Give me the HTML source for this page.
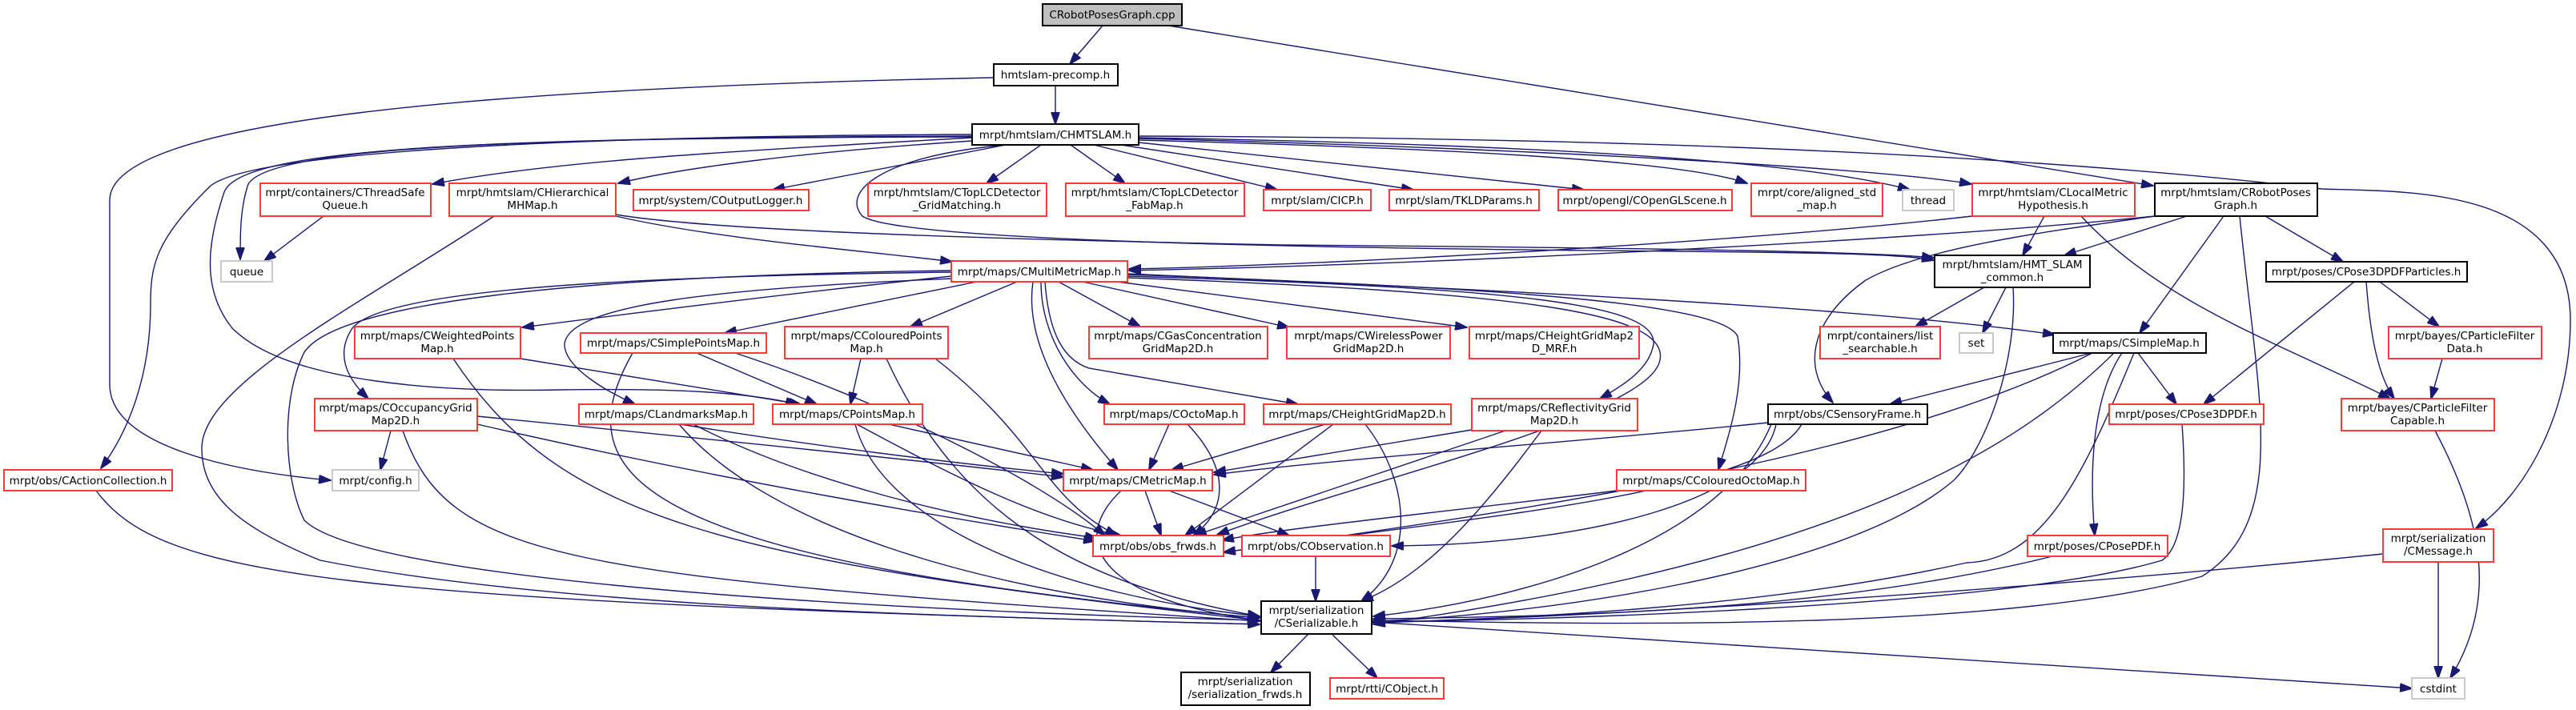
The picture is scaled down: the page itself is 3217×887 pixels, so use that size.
<!DOCTYPE html>
<html><head><meta charset="utf-8"><style>
html,body{margin:0;padding:0;background:#fff;}
svg{display:block;}
text{font-family:"DejaVu Sans","Liberation Sans",sans-serif;font-size:13.5px;fill:#000;text-anchor:middle;}
.e{fill:none;stroke:#191970;stroke-width:1.4;marker-end:url(#a);}
.r{fill:#fff;stroke:#ff3838;stroke-width:2;}
.b{fill:#fff;stroke:#000;stroke-width:2;}
.g{fill:#fff;stroke:#c8c8c8;stroke-width:2;}
</style></head><body>
<svg width="3217" height="887" viewBox="0 0 3217 887" xmlns="http://www.w3.org/2000/svg">
<defs><marker id="a" markerUnits="userSpaceOnUse" markerWidth="16" markerHeight="11" refX="15" refY="5.5" orient="auto" viewBox="0 0 16 11"><path d="M0,0 L16,5.5 L0,11 z" fill="#191970" stroke="#191970"/></marker></defs>
<g>
<path class="e" d="M1377,32 L1336,80"/>
<path class="e" d="M1459,32 L2689,232"/>
<path class="e" d="M1318,107 L1318,155"/>
<path class="e" d="M1241,97 C600,110 137,150 137,250 L137,480 C137,560 300,590 413,600"/>
<path class="e" d="M1214,172 C900,190 700,200 540,230"/>
<path class="e" d="M1214,176 C1000,190 850,210 772,229"/>
<path class="e" d="M1256,181 L965,237"/>
<path class="e" d="M1214,171 C700,172 340,180 310,230 C300,260 300,290 300,324"/>
<path class="e" d="M1214,168 C700,170 300,190 260,235 C195,300 188,330 188,380 C188,470 160,540 126,585"/>
<path class="e" d="M1214,170 C600,172 300,185 280,240 C260,300 250,360 290,410 C360,480 560,490 700,487 C850,485 930,490 996,505"/>
<path class="e" d="M1300,181 L1232,229"/>
<path class="e" d="M1337,181 L1405,229"/>
<path class="e" d="M1366,181 L1595,237"/>
<path class="e" d="M1400,181 L1765,237"/>
<path class="e" d="M1422,178 L1978,237"/>
<path class="e" d="M1422,175 C1800,185 2100,200 2182,229"/>
<path class="e" d="M1422,172 C1900,180 2250,200 2385,237"/>
<path class="e" d="M1422,173 C1900,185 2350,210 2462,230"/>
<path class="e" d="M1256,181 C1100,195 1050,240 1077,270 C1120,300 1600,310 2100,314 C2300,316 2380,318 2415,325"/>
<path class="e" d="M1422,170 C2000,172 2500,190 2900,236 C3000,240 3210,230 3210,400 C3210,520 3150,620 3092,660"/>
<path class="e" d="M404,270 L330,326"/>
<path class="e" d="M617,270 C450,380 252,480 252,560 C252,620 300,660 400,700 C700,760 1200,770 1573,780"/>
<path class="e" d="M769,270 C900,300 1100,315 1189,327"/>
<path class="e" d="M769,268 C900,290 1300,300 1600,306 C2100,310 2350,315 2415,322"/>
<path class="e" d="M2463,270 C2200,300 1700,330 1410,336"/>
<path class="e" d="M2691,270 C2400,300 1800,330 1410,338"/>
<path class="e" d="M2553,270 L2526,319"/>
<path class="e" d="M2599,270 C2700,380 2850,430 2985,498"/>
<path class="e" d="M2731,270 L2578,319"/>
<path class="e" d="M2777,270 L2672,416"/>
<path class="e" d="M2829,270 L2926,327"/>
<path class="e" d="M2797,270 C2820,500 2860,650 2750,720 C2500,790 2000,780 1715,775"/>
<path class="e" d="M2691,270 C2550,290 2400,310 2330,350 C2260,400 2250,460 2289,503"/>
<path class="e" d="M1188,345 C1000,365 800,390 652,409"/>
<path class="e" d="M1220,352 L905,416"/>
<path class="e" d="M1270,352 L1137,408"/>
<path class="e" d="M1322,352 L1424,408"/>
<path class="e" d="M1352,352 L1610,409"/>
<path class="e" d="M1395,352 L1832,409"/>
<path class="e" d="M1408,342 C1800,360 2300,380 2566,418"/>
<path class="e" d="M1188,340 C800,345 480,360 440,410 C420,440 430,470 460,498"/>
<path class="e" d="M1190,348 C900,360 710,380 705,430 C705,460 760,490 793,505"/>
<path class="e" d="M1290,352 C1280,420 1320,500 1396,587"/>
<path class="e" d="M1300,352 C1300,420 1340,480 1386,505"/>
<path class="e" d="M1305,352 C1310,420 1330,450 1360,460 L1621,505"/>
<path class="e" d="M1408,345 C1900,360 2070,380 2065,430 C2060,460 2030,480 1998,498"/>
<path class="e" d="M1408,343 C1900,360 2150,380 2170,420 C2180,480 2160,540 2146,587"/>
<path class="e" d="M1408,347 C1900,365 2085,390 2073,450 C2060,520 1700,600 1520,668"/>
<path class="e" d="M1188,338 C700,345 420,380 380,440 C350,500 355,600 380,650 C450,720 1000,760 1573,775"/>
<path class="e" d="M2478,359 L2392,408"/>
<path class="e" d="M2505,359 L2476,416"/>
<path class="e" d="M2514,359 C2520,450 2480,560 2440,600 C2300,720 1900,770 1715,776"/>
<path class="e" d="M2940,352 L2752,505"/>
<path class="e" d="M2972,352 L3046,408"/>
<path class="e" d="M2955,352 C2960,420 2970,470 2990,498"/>
<path class="e" d="M2612,441 L2360,505"/>
<path class="e" d="M2670,441 L2718,505"/>
<path class="e" d="M2650,441 C2610,500 2610,600 2616,669"/>
<path class="e" d="M2613,441 C2400,550 2050,620 1528,690"/>
<path class="e" d="M2640,441 C2520,560 2300,700 1715,780"/>
<path class="e" d="M2665,441 C2600,600 2550,700 2456,703 C2200,760 1900,772 1715,778"/>
<path class="e" d="M3050,448 L3036,498"/>
<path class="e" d="M3041,538 C3100,650 3120,750 3060,847"/>
<path class="e" d="M2976,692 C2500,740 2000,770 1715,778"/>
<path class="e" d="M3045,702 L3045,847"/>
<path class="e" d="M1634,792 L1587,840"/>
<path class="e" d="M1663,792 L1720,847"/>
<path class="e" d="M1713,777 L3012,860"/>
<path class="e" d="M2563,695 C2300,760 2000,770 1715,773"/>
<path class="e" d="M2725,530 C2730,600 2730,680 2700,700 C2500,760 1900,775 1715,777"/>
<path class="e" d="M2208,528 C2000,550 1700,570 1516,593"/>
<path class="e" d="M1838,537 L1516,590"/>
<path class="e" d="M1655,530 L1463,587"/>
<path class="e" d="M1460,530 L1435,587"/>
<path class="e" d="M1110,530 L1365,587"/>
<path class="e" d="M850,530 C1000,555 1200,580 1328,592"/>
<path class="e" d="M596,520 C800,540 1100,570 1328,596"/>
<path class="e" d="M2250,530 C2200,620 1800,650 1528,690"/>
<path class="e" d="M2218,530 C2200,620 2000,680 1738,682"/>
<path class="e" d="M2212,530 C2150,680 1900,750 1715,770"/>
<path class="e" d="M2019,613 C1800,640 1600,660 1526,675"/>
<path class="e" d="M1430,613 L1450,669"/>
<path class="e" d="M1460,613 L1610,669"/>
<path class="e" d="M1400,613 C1330,680 1380,750 1573,775"/>
<path class="e" d="M1643,695 L1643,751"/>
<path class="e" d="M1483,530 C1540,590 1530,640 1490,669"/>
<path class="e" d="M1665,530 L1480,669"/>
<path class="e" d="M1705,530 C1760,600 1770,700 1700,751"/>
<path class="e" d="M1880,538 L1492,669"/>
<path class="e" d="M1925,538 C1850,640 1780,720 1700,751"/>
<path class="e" d="M1070,530 C1200,600 1300,650 1400,669"/>
<path class="e" d="M1068,530 C1100,650 1300,740 1573,770"/>
<path class="e" d="M866,530 C1000,600 1200,650 1370,672"/>
<path class="e" d="M848,530 C950,650 1200,740 1573,772"/>
<path class="e" d="M596,530 C900,600 1200,650 1368,676"/>
<path class="e" d="M503,538 C560,700 700,720 1573,776"/>
<path class="e" d="M650,448 L1000,505"/>
<path class="e" d="M566,448 C700,650 900,700 1573,775"/>
<path class="e" d="M870,441 L1020,505"/>
<path class="e" d="M790,441 C700,600 800,700 1573,772"/>
<path class="e" d="M918,441 C1100,500 1300,600 1380,669"/>
<path class="e" d="M1075,448 L1062,505"/>
<path class="e" d="M1107,448 C1200,650 1350,730 1573,770"/>
<path class="e" d="M1168,448 C1300,550 1300,620 1395,669"/>
<path class="e" d="M120,613 C200,720 400,750 1573,780"/>
<path class="e" d="M488,538 L475,587"/>
</g>
<g>
<rect x="1302" y="5" width="174" height="27" fill="#bfbfbf" stroke="#000" stroke-width="2"/><text x="1389" y="23">CRobotPosesGraph.cpp</text>
<rect class="b" x="1241" y="80" width="155" height="27"/><text x="1318" y="98">hmtslam-precomp.h</text>
<rect class="b" x="1214" y="155" width="208" height="26"/><text x="1318" y="173">mrpt/hmtslam/CHMTSLAM.h</text>
<rect class="r" x="325" y="229" width="213" height="41"/><text x="431" y="245">mrpt/containers/CThreadSafe</text><text x="431" y="261">Queue.h</text>
<rect class="r" x="561" y="229" width="208" height="41"/><text x="665" y="245">mrpt/hmtslam/CHierarchical</text><text x="665" y="261">MHMap.h</text>
<rect class="r" x="791" y="237" width="219" height="26"/><text x="900" y="255">mrpt/system/COutputLogger.h</text>
<rect class="r" x="1084" y="229" width="223" height="41"/><text x="1195" y="245">mrpt/hmtslam/CTopLCDetector</text><text x="1195" y="261">_GridMatching.h</text>
<rect class="r" x="1331" y="229" width="223" height="41"/><text x="1442" y="245">mrpt/hmtslam/CTopLCDetector</text><text x="1442" y="261">_FabMap.h</text>
<rect class="r" x="1578" y="237" width="134" height="26"/><text x="1645" y="255">mrpt/slam/CICP.h</text>
<rect class="r" x="1735" y="237" width="187" height="26"/><text x="1828" y="255">mrpt/slam/TKLDParams.h</text>
<rect class="r" x="1946" y="237" width="217" height="26"/><text x="2054" y="255">mrpt/opengl/COpenGLScene.h</text>
<rect class="r" x="2187" y="229" width="164" height="41"/><text x="2269" y="245">mrpt/core/aligned_std</text><text x="2269" y="261">_map.h</text>
<rect class="g" x="2376" y="237" width="64" height="26"/><text x="2408" y="255">thread</text>
<rect class="r" x="2463" y="229" width="203" height="41"/><text x="2564" y="245">mrpt/hmtslam/CLocalMetric</text><text x="2564" y="261">Hypothesis.h</text>
<rect class="b" x="2691" y="229" width="203" height="41" stroke="#404040"/><text x="2792" y="245">mrpt/hmtslam/CRobotPoses</text><text x="2792" y="261">Graph.h</text>
<rect class="g" x="276" y="326" width="64" height="26"/><text x="308" y="344">queue</text>
<rect class="r" x="1188" y="326" width="220" height="26"/><text x="1298" y="344">mrpt/maps/CMultiMetricMap.h</text>
<rect class="b" x="2416" y="319" width="194" height="40"/><text x="2513" y="335">mrpt/hmtslam/HMT_SLAM</text><text x="2513" y="351">_common.h</text>
<rect class="b" x="2830" y="327" width="251" height="25"/><text x="2955" y="344">mrpt/poses/CPose3DPDFParticles.h</text>
<rect class="r" x="443" y="408" width="207" height="40"/><text x="546" y="424">mrpt/maps/CWeightedPoints</text><text x="546" y="440">Map.h</text>
<rect class="r" x="725" y="416" width="232" height="25"/><text x="841" y="433">mrpt/maps/CSimplePointsMap.h</text>
<rect class="r" x="980" y="408" width="204" height="40"/><text x="1082" y="424">mrpt/maps/CColouredPoints</text><text x="1082" y="440">Map.h</text>
<rect class="r" x="1360" y="408" width="223" height="40"/><text x="1471" y="424">mrpt/maps/CGasConcentration</text><text x="1471" y="440">GridMap2D.h</text>
<rect class="r" x="1607" y="408" width="204" height="40"/><text x="1709" y="424">mrpt/maps/CWirelessPower</text><text x="1709" y="440">GridMap2D.h</text>
<rect class="r" x="1835" y="408" width="212" height="40"/><text x="1941" y="424">mrpt/maps/CHeightGridMap2</text><text x="1941" y="440">D_MRF.h</text>
<rect class="r" x="2273" y="408" width="150" height="40"/><text x="2348" y="424">mrpt/containers/list</text><text x="2348" y="440">_searchable.h</text>
<rect class="g" x="2447" y="416" width="42" height="25"/><text x="2468" y="433">set</text>
<rect class="b" x="2564" y="416" width="191" height="25"/><text x="2659" y="433">mrpt/maps/CSimpleMap.h</text>
<rect class="r" x="2983" y="408" width="191" height="40"/><text x="3078" y="424">mrpt/bayes/CParticleFilter</text><text x="3078" y="440">Data.h</text>
<rect class="r" x="393" y="498" width="203" height="40"/><text x="494" y="514">mrpt/maps/COccupancyGrid</text><text x="494" y="530">Map2D.h</text>
<rect class="r" x="723" y="505" width="218" height="25"/><text x="832" y="522">mrpt/maps/CLandmarksMap.h</text>
<rect class="r" x="965" y="505" width="187" height="25"/><text x="1058" y="522">mrpt/maps/CPointsMap.h</text>
<rect class="r" x="1379" y="505" width="175" height="25"/><text x="1466" y="522">mrpt/maps/COctoMap.h</text>
<rect class="r" x="1578" y="505" width="234" height="25"/><text x="1695" y="522">mrpt/maps/CHeightGridMap2D.h</text>
<rect class="r" x="1838" y="498" width="207" height="40"/><text x="1941" y="514">mrpt/maps/CReflectivityGrid</text><text x="1941" y="530">Map2D.h</text>
<rect class="b" x="2208" y="505" width="199" height="25"/><text x="2307" y="522">mrpt/obs/CSensoryFrame.h</text>
<rect class="r" x="2634" y="505" width="193" height="25"/><text x="2730" y="522">mrpt/poses/CPose3DPDF.h</text>
<rect class="r" x="2924" y="498" width="191" height="40"/><text x="3019" y="514">mrpt/bayes/CParticleFilter</text><text x="3019" y="530">Capable.h</text>
<rect class="r" x="5" y="587" width="210" height="26"/><text x="110" y="605">mrpt/obs/CActionCollection.h</text>
<rect class="g" x="415" y="587" width="108" height="26"/><text x="469" y="605">mrpt/config.h</text>
<rect class="r" x="1328" y="587" width="186" height="26"/><text x="1421" y="605">mrpt/maps/CMetricMap.h</text>
<rect class="r" x="2019" y="587" width="236" height="26"/><text x="2137" y="605">mrpt/maps/CColouredOctoMap.h</text>
<rect class="r" x="1365" y="669" width="163" height="26"/><text x="1446" y="687">mrpt/obs/obs_frwds.h</text>
<rect class="r" x="1551" y="669" width="185" height="26"/><text x="1643" y="687">mrpt/obs/CObservation.h</text>
<rect class="r" x="2532" y="669" width="175" height="26"/><text x="2619" y="687">mrpt/poses/CPosePDF.h</text>
<rect class="r" x="2976" y="661" width="138" height="41"/><text x="3045" y="677">mrpt/serialization</text><text x="3045" y="693">/CMessage.h</text>
<rect class="b" x="1575" y="751" width="138" height="41"/><text x="1644" y="767">mrpt/serialization</text><text x="1644" y="783">/CSerializable.h</text>
<rect class="b" x="1475" y="840" width="161" height="41"/><text x="1555" y="856">mrpt/serialization</text><text x="1555" y="872">/serialization_frwds.h</text>
<rect class="r" x="1661" y="847" width="142" height="26"/><text x="1732" y="865">mrpt/rtti/CObject.h</text>
<rect class="g" x="3012" y="847" width="66" height="26"/><text x="3045" y="865">cstdint</text>
</g>
</svg>
</body></html>
